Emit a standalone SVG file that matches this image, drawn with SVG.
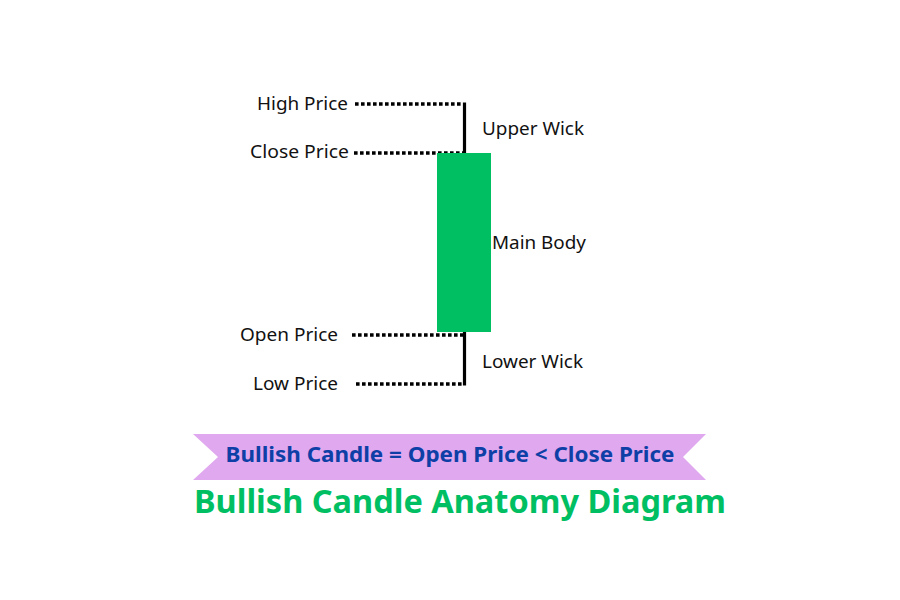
<svg xmlns="http://www.w3.org/2000/svg" width="900" height="600" viewBox="0 0 900 600">
<style>
.lbl{font-family:"Noto Sans","Open Sans",sans-serif;font-size:18px;fill:#111}
.dot{stroke:#000;stroke-width:3.5;stroke-dasharray:3.6 2.4;fill:none}
.wick{stroke:#000;stroke-width:3.2;fill:none}
</style>
<rect width="900" height="600" fill="#fff"/>
<g id="connectors">
<line class="dot" x1="355" y1="104" x2="463" y2="104"/>
<line class="dot" x1="354" y1="153" x2="463" y2="153"/>
<line class="dot" x1="352" y1="335" x2="463" y2="335"/>
<line class="dot" x1="356" y1="384" x2="463" y2="384"/>
<path class="wick" d="M464.5 102.5 V153"/>
<path class="wick" d="M464.5 332 V385.5"/>
</g>
<g id="body"><rect x="437" y="153" width="54" height="179" fill="#00BF63"/></g>
<g id="high-price"><text class="lbl" x="257" y="110" textLength="91" lengthAdjust="spacingAndGlyphs">High Price</text></g>
<g id="close-price"><text class="lbl" x="250" y="158" textLength="99" lengthAdjust="spacingAndGlyphs">Close Price</text></g>
<g id="open-price"><text class="lbl" x="240" y="341" textLength="98" lengthAdjust="spacingAndGlyphs">Open Price</text></g>
<g id="low-price"><text class="lbl" x="253" y="390" textLength="85" lengthAdjust="spacingAndGlyphs">Low Price</text></g>
<g id="upper-wick"><text class="lbl" x="482" y="135" textLength="102" lengthAdjust="spacingAndGlyphs">Upper Wick</text></g>
<g id="main-body"><text class="lbl" x="492" y="249" textLength="94" lengthAdjust="spacingAndGlyphs">Main Body</text></g>
<g id="lower-wick"><text class="lbl" x="482" y="368" textLength="101" lengthAdjust="spacingAndGlyphs">Lower Wick</text></g>
<g id="banner">
<polygon points="193,434 706,434 683,457 706,480 193,480 218,457" fill="#E0A8EE"/>
<text x="450" y="462" text-anchor="middle" textLength="449" lengthAdjust="spacingAndGlyphs" font-family="'Noto Sans','Open Sans',sans-serif" font-weight="bold" font-size="21" fill="#0D3FA6">Bullish Candle = Open Price &lt; Close Price</text>
</g>
<g id="title"><text x="460" y="513" text-anchor="middle" textLength="532" lengthAdjust="spacingAndGlyphs" font-family="'Noto Sans','Open Sans',sans-serif" font-weight="bold" font-size="32" fill="#00BF63">Bullish Candle Anatomy Diagram</text></g>
</svg>
